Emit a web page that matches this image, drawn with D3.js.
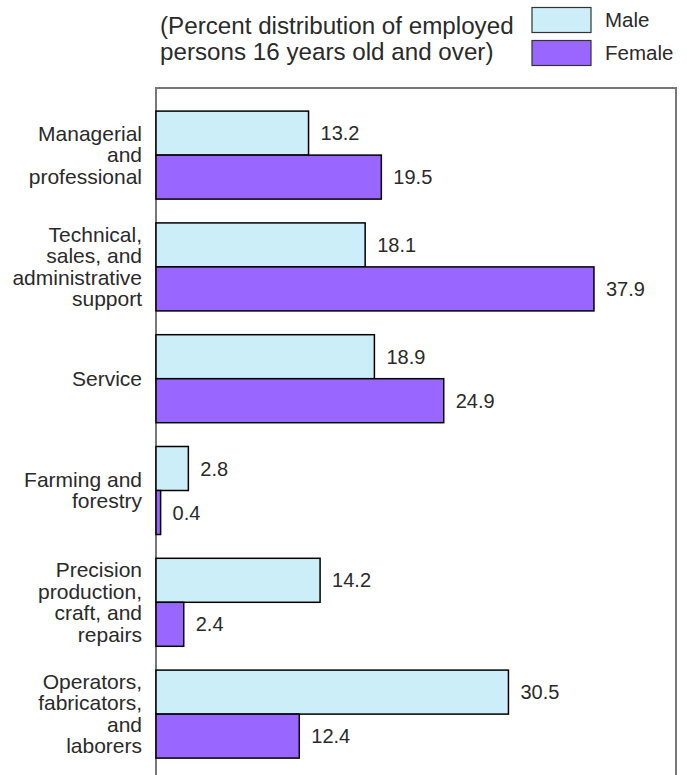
<!DOCTYPE html>
<html>
<head>
<meta charset="utf-8">
<script src="https://cdn.jsdelivr.net/npm/d3@7"></script>
<style>
  body { margin: 0; background: #fff; }
  svg text { font-family: "Liberation Sans", Arial, sans-serif; fill: #2a2a2a; }
</style>
</head>
<body>
<svg id="chart" width="687" height="775"></svg>
<script>
var categories = [
  ['Managerial', 'and', 'professional'],
  ['Technical,', 'sales, and', 'administrative', 'support'],
  ['Service'],
  ['Farming and', 'forestry'],
  ['Precision', 'production,', 'craft, and', 'repairs'],
  ['Operators,', 'fabricators,', 'and', 'laborers']
];
var male = [13.2, 18.1, 18.9, 2.8, 14.2, 30.5];
var female = [19.5, 37.9, 24.9, 0.4, 2.4, 12.4];
var seriesNames = ['Male', 'Female'];
var titleLines = ['(Percent distribution of employed', 'persons 16 years old and over)'];

var colors = { Male: '#cceef8', Female: '#9966ff' };

var svg = d3.select('#chart');

// frame (plot box, open at the bottom)
var boxL = 156, boxR = 676, boxT = 88, boxB = 775;

var x = d3.scaleLinear().domain([0, 45]).range([boxL, boxR]);

var y = d3.scaleBand()
  .domain(d3.range(categories.length))
  .range([111 - 11.8, 111 - 11.8 + 111.8 * 6])
  .paddingInner(23.8 / 111.8)
  .paddingOuter(11.9 / 111.8);

var sub = d3.scaleBand().domain(seriesNames).range([0, y.bandwidth()]);

// title
svg.append('text')
  .attr('font-size', 24.2)
  .selectAll('tspan').data(titleLines).enter().append('tspan')
  .attr('x', 160)
  .attr('y', function (d, i) { return 34 + i * 26; })
  .text(function (d) { return d; });

// legend
var legend = svg.selectAll('.legend').data(seriesNames).enter().append('g')
  .attr('class', 'legend')
  .attr('transform', function (d, i) { return 'translate(532,' + (7.5 + i * 33) + ')'; });
legend.append('rect')
  .attr('width', 59).attr('height', 25)
  .attr('fill', function (d) { return colors[d]; })
  .attr('stroke', '#333').attr('stroke-width', 1.2);
legend.append('text')
  .attr('x', 73).attr('y', 19.5)
  .attr('font-size', 20.5)
  .text(function (d) { return d; });

// frame lines
svg.append('path')
  .attr('d', 'M' + boxL + ',' + boxB + 'V' + boxT + 'H' + boxR + 'V' + boxB)
  .attr('fill', 'none').attr('stroke', '#777').attr('stroke-width', 2);

// bars
var rows = categories.map(function (c, i) {
  return { i: i, values: [{ s: 'Male', v: male[i] }, { s: 'Female', v: female[i] }] };
});

var groups = svg.selectAll('.grp').data(rows).enter().append('g')
  .attr('class', 'grp')
  .attr('transform', function (d) { return 'translate(0,' + y(d.i) + ')'; });

groups.selectAll('rect').data(function (d) { return d.values; }).enter().append('rect')
  .attr('x', x(0))
  .attr('y', function (d) { return sub(d.s); })
  .attr('width', function (d) { return x(d.v) - x(0); })
  .attr('height', sub.bandwidth())
  .attr('fill', function (d) { return colors[d.s]; })
  .attr('stroke', '#000').attr('stroke-width', 1.5);

groups.selectAll('.val').data(function (d) { return d.values; }).enter().append('text')
  .attr('class', 'val')
  .attr('x', function (d) { return x(d.v) + 12; })
  .attr('y', function (d) { return sub(d.s) + sub.bandwidth() / 2 + 7; })
  .attr('font-size', 20)
  .text(function (d) { return d.v.toFixed(1); });

// category labels
var lineH = 21.5;
groups.append('text')
  .attr('text-anchor', 'end')
  .attr('font-size', 21)
  .each(function (d) {
    var lines = categories[d.i];
    var cy = y.bandwidth() / 2;
    var y0 = cy - (lines.length - 1) * lineH / 2 + 7;
    d3.select(this).selectAll('tspan').data(lines).enter().append('tspan')
      .attr('x', 142)
      .attr('y', function (t, k) { return y0 + k * lineH; })
      .text(function (t) { return t; });
  });
</script>
</body>
</html>
